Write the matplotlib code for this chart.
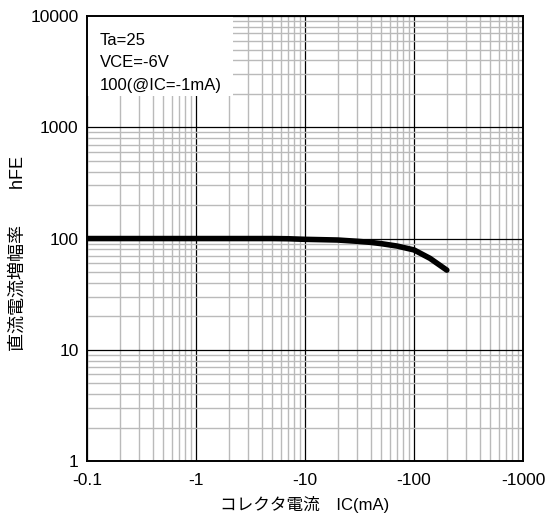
import numpy as np
import matplotlib
matplotlib.use("Agg")
import matplotlib.pyplot as plt
from matplotlib.ticker import FixedLocator, FixedFormatter, NullFormatter, LogLocator
from matplotlib.patches import Rectangle

plt.rcParams['font.family'] = ['Liberation Sans', 'Noto Sans CJK JP']

# Kennlinie hFE ueber IC (Betrag in mA)
ic_ma = [0.1, 0.2, 0.5, 1, 2, 5, 7, 10, 20, 30, 40, 50, 70, 100, 140, 200]
hfe = [100, 100, 100, 100, 100, 100, 99.6, 98.4, 97, 94.5, 92.4, 90, 85.6, 79, 66.4, 52]

x_ticks = [0.1, 1, 10, 100, 1000]
x_labels = ["-0.1", "-1", "-10", "-100", "-1000"]
y_ticks = [1, 10, 100, 1000, 10000]
y_labels = ["1", "10", "100", "1000", "10000"]
notes = ["Ta=25", "VCE=-6V", "100(@IC=-1mA)"]

fig = plt.figure(figsize=(5.5, 5.2), dpi=100)
ax = fig.add_axes([0.158, 0.1135, 0.793, 0.8555])

ax.set_xscale("log")
ax.set_yscale("log")
ax.set_xlim(0.1, 1000)
ax.set_ylim(1, 10000)

ax.xaxis.set_major_locator(FixedLocator(x_ticks))
ax.xaxis.set_major_formatter(FixedFormatter(x_labels))
ax.yaxis.set_major_locator(FixedLocator(y_ticks))
ax.yaxis.set_major_formatter(FixedFormatter(y_labels))
ax.xaxis.set_minor_locator(LogLocator(base=10, subs=np.arange(2, 10)))
ax.yaxis.set_minor_locator(LogLocator(base=10, subs=np.arange(2, 10)))
ax.xaxis.set_minor_formatter(NullFormatter())
ax.yaxis.set_minor_formatter(NullFormatter())

ax.grid(which="minor", color="#bababa", linewidth=1.0, zorder=0)
ax.grid(which="major", color="black", linewidth=0.9, zorder=1)
ax.tick_params(which="both", length=0, labelsize=12.5)
ax.tick_params(axis="x", pad=9)
ax.tick_params(axis="y", pad=6)
for s in ax.spines.values():
    s.set_linewidth(1.4)

# weisses Feld fuer die Messbedingungen
ax.add_patch(Rectangle((0, 0.82), 0.335, 0.18, transform=ax.transAxes,
                       facecolor="white", edgecolor="none", zorder=2))
for i, t in enumerate(notes):
    ax.text(0.03, 0.945 - i * 0.05, t, transform=ax.transAxes, fontsize=12,
            va="center", ha="left", zorder=3)

ax.plot(ic_ma, hfe, color="black", linewidth=4, solid_capstyle="round", zorder=4)

fig.text(0.553, 0.03, "コレクタ電流　IC(mA)", ha="center", va="center", fontsize=12)
fig.text(0.033, 0.513, "直流電流増幅率　　hFE", ha="center", va="center",
         rotation=90, fontsize=13)

fig.savefig("out.png", dpi=100)
